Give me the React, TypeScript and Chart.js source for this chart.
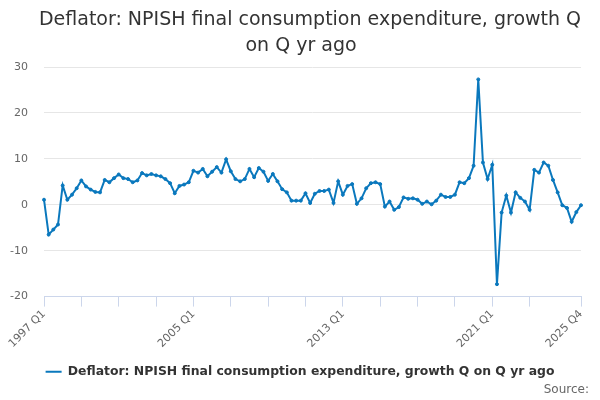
import React, { useEffect, useRef } from 'react';
import { Chart, registerables } from 'chart.js';

Chart.register(...registerables);

// quarterly categories 1997 Q1 .. 2025 Q4
const years: number[] = [];
for (let y = 1997; y <= 2025; y++) years.push(y);
const quarters = ['Q1', 'Q2', 'Q3', 'Q4'];
const labels: string[] = [];
years.forEach((y) => quarters.forEach((q) => labels.push(`${y} ${q}`)));

// labels that are printed on the x axis
const shownLabels = ['1997 Q1', '2005 Q1', '2013 Q1', '2021 Q1', '2025 Q4'];

const yTicks = [-20, -10, 0, 10, 20, 30];

const titleLines = ['Deflator: NPISH final consumption expenditure, growth Q', 'on Q yr ago'];
const seriesName = 'Deflator: NPISH final consumption expenditure, growth Q on Q yr ago';

// growth, %
const values = [
  1.1, -6.5, -5.4, -4.3, 4.2, 1.1, 2.2, 3.6,
  5.3, 4.0, 3.3, 2.8, 2.7, 5.4, 4.9, 5.8,
  6.6, 5.8, 5.6, 4.9, 5.3, 6.9, 6.4, 6.7,
  6.4, 6.2, 5.6, 4.7, 2.5, 4.1, 4.4, 4.9,
  7.4, 7.0, 7.8, 6.2, 7.2, 8.2, 7.0, 9.9,
  7.3, 5.6, 5.1, 5.6, 7.8, 6.0, 8.0, 7.2,
  5.2, 6.7, 5.1, 3.4, 2.7, 0.9, 0.9, 0.9,
  2.5, 0.4, 2.4, 3.0, 3.0, 3.3, 0.4, 5.1,
  2.2, 4.1, 4.5, 0.2, 1.4, 3.6, 4.7, 4.9,
  4.5, -0.4, 0.7, -1.1, -0.5, 1.6, 1.3, 1.4,
  1.1, 0.2, 0.7, 0.1, 0.9, 2.2, 1.7, 1.7,
  2.2, 4.9, 4.7, 5.8, 8.5, 27.3, 9.2, 5.6,
  8.7, -17.3, -1.7, 2.0, -1.7, 2.7, 1.5, 0.7,
  -1.1, 7.6, 7.0, 9.2, 8.5, 5.4, 2.7, -0.1,
  -0.7, -3.7, -1.6, -0.1,
];

const lineColor = '#0a78bd';

// title (each line centred as in the reference) and "Source:" footer
const textPlugin = {
  id: 'extraText',
  afterDraw(chart: Chart) {
    const { ctx } = chart;
    ctx.save();
    ctx.font = '19px "DejaVu Sans"';
    ctx.fillStyle = '#333333';
    ctx.textAlign = 'center';
    ctx.textBaseline = 'middle';
    ctx.fillText(titleLines[0], 310, 20);
    ctx.fillText(titleLines[1], 301, 46);

    ctx.font = '12px "DejaVu Sans"';
    ctx.fillStyle = '#666666';
    ctx.textAlign = 'right';
    ctx.fillText('Source:', 589, 390);
    ctx.restore();
  },
};

const App: React.FC = () => {
  const canvasRef = useRef<HTMLCanvasElement | null>(null);

  useEffect(() => {
    if (!canvasRef.current) return;
    const ctx = canvasRef.current.getContext('2d');
    if (!ctx) return;

    Chart.defaults.font.family = '"DejaVu Sans", sans-serif';

    const chart = new Chart(ctx, {
      type: 'line',
      data: {
        labels,
        datasets: [
          {
            label: seriesName,
            data: values,
            borderColor: lineColor,
            backgroundColor: lineColor,
            borderWidth: 2,
            pointRadius: 1.5,
            pointBorderWidth: 1,
            pointHoverRadius: 3,
            tension: 0,
          },
        ],
      },
      options: {
        responsive: false,
        animation: false,
        layout: { padding: { left: 0, right: 0, top: 67, bottom: 12 } },
        plugins: {
          title: { display: false },
          legend: {
            position: 'bottom',
            labels: {
              color: '#333333',
              font: { size: 12.4, weight: 'bold' },
              boxWidth: 16,
              boxHeight: 2,
              padding: 10,
              generateLabels: (c: Chart) =>
                Chart.defaults.plugins.legend.labels.generateLabels(c).map((l: any) => ({
                  ...l,
                  lineWidth: 0,
                })),
            },
          },
          tooltip: { enabled: false },
        },
        scales: {
          x: {
            offset: false,
            afterFit: (scale: any) => {
              scale.height = 59;
            },
            border: { color: '#ccd6eb', width: 1 },
            grid: {
              drawOnChartArea: false,
              drawTicks: true,
              tickLength: 10,
              color: (c: any) =>
                (c.index % 8 === 0 && c.index !== 112) || c.index === labels.length - 1
                  ? '#ccd6eb'
                  : 'rgba(0,0,0,0)',
            },
            ticks: {
              autoSkip: false,
              maxRotation: 45,
              minRotation: 45,
              padding: 1,
              color: '#666666',
              font: { size: 11 },
              callback: (_v: any, i: number) => (shownLabels.includes(labels[i]) ? labels[i] : ''),
            },
          },
          y: {
            min: -20,
            max: 30,
            afterFit: (scale: any) => {
              scale.width = 44;
            },
            afterBuildTicks: (scale: any) => {
              scale.ticks = yTicks.map((v) => ({ value: v }));
            },
            border: { display: false },
            grid: { color: '#e6e6e6', drawTicks: false },
            ticks: {
              color: '#666666',
              font: { size: 11 },
              padding: 16,
            },
          },
          // empty right-hand spacer so the plot ends at x = 581
          spacer: {
            type: 'linear',
            position: 'right',
            afterFit: (scale: any) => {
              scale.width = 19;
            },
            border: { display: false },
            grid: { display: false },
            ticks: { display: false },
          },
        },
      },
      plugins: [textPlugin],
    });

    return () => {
      chart.destroy();
    };
  }, []);

  return (
    <div style={{ position: 'absolute', left: 0, top: 0, width: 600, height: 400, background: '#fff' }}>
      <canvas ref={canvasRef} width={600} height={400} style={{ width: 600, height: 400 }} />
    </div>
  );
};

export default App;
